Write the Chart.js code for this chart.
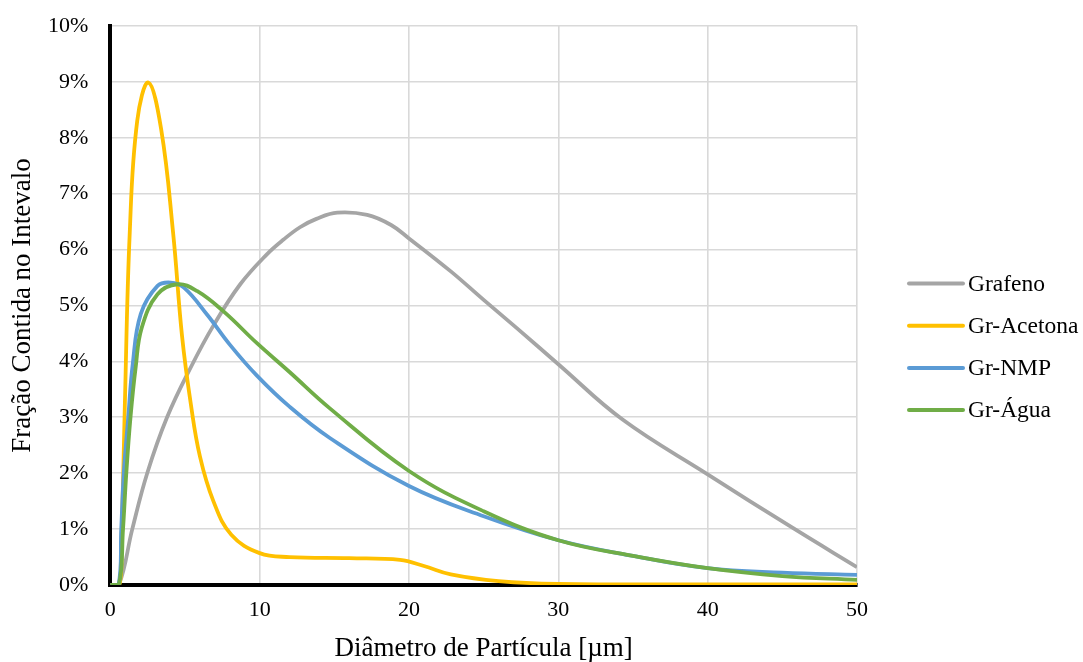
<!DOCTYPE html>
<html>
<head>
<meta charset="utf-8">
<script src="https://cdn.jsdelivr.net/npm/chart.js@4.4.1/dist/chart.umd.min.js"></script>
<style>
  html, body { margin: 0; padding: 0; background: #fff; }
  #wrap { width: 1083px; height: 662px; }
</style>
</head>
<body>
<div id="wrap"><canvas id="grafico"></canvas></div>
<script>
  // Diâmetro de partícula [µm] e fração (%) de cada amostra
  const xGrafeno = [0, 0.57, 1.47, 2.47, 3.8, 5.4, 6.9, 8.7, 10.5, 11.6, 12.7, 13.8, 15.2, 17.2, 18.8, 20, 22.8, 25, 27.2, 30, 34.3, 40, 45.7, 50];
  const yGrafeno = [0, 0, 1, 2, 3, 3.9, 4.64, 5.38, 5.92, 6.18, 6.4, 6.55, 6.66, 6.62, 6.44, 6.2, 5.61, 5.1, 4.6, 3.95, 2.96, 1.98, 1.02, 0.32];

  const xAcetona = [0, 0.6, 0.75, 0.97, 1.3, 1.8, 2.55, 3.4, 4.2, 4.8, 5.4, 6, 6.9, 8.1, 10, 12, 16, 19.4, 21, 22.8, 26, 30, 40, 50];
  const yAcetona = [0, 0, 0.8, 3.2, 6.3, 8.3, 8.99, 8.16, 6.31, 4.46, 3.22, 2.3, 1.5, 0.9, 0.57, 0.5, 0.48, 0.45, 0.34, 0.19, 0.07, 0.02, 0.01, 0.01];

  const xNMP = [0, 0.55, 0.73, 0.9, 1.2, 1.5, 2.04, 3.16, 4.04, 4.93, 6.5, 8, 9.8, 12, 14.7, 20, 25, 30, 35, 40, 45, 50];
  const yNMP = [0, 0, 1, 2, 3, 3.95, 4.85, 5.35, 5.41, 5.32, 4.83, 4.3, 3.75, 3.19, 2.63, 1.77, 1.23, 0.8, 0.52, 0.3, 0.22, 0.18];

  const xAgua = [0, 0.57, 0.85, 1.07, 1.35, 1.7, 2.1, 3.16, 4.5, 5.8, 7.6, 9.8, 12, 14.7, 20, 25, 30, 35, 40, 45, 50];
  const yAgua = [0, 0, 1, 2, 3, 3.9, 4.6, 5.2, 5.38, 5.26, 4.89, 4.33, 3.81, 3.16, 2.04, 1.32, 0.8, 0.52, 0.3, 0.16, 0.09];

  const nomes = ['Grafeno', 'Gr-Acetona', 'Gr-NMP', 'Gr-Água'];
  const cores = ['#A5A5A5', '#FFC000', '#5B9BD5', '#70AD47'];
  const xTicks = [0, 10, 20, 30, 40, 50];
  const yTicks = [0, 1, 2, 3, 4, 5, 6, 7, 8, 9, 10];

  const fonte = '"Liberation Serif", "Times New Roman", serif';
  const semCor = 'rgba(0,0,0,0)';

  function pontos(xs, ys) {
    return xs.map((x, i) => ({ x: x, y: ys[i] }));
  }

  const series = [
    pontos(xGrafeno, yGrafeno),
    pontos(xAcetona, yAcetona),
    pontos(xNMP, yNMP),
    pontos(xAgua, yAgua)
  ];

  // legenda desenhada à mão, à direita do gráfico
  const legenda = {
    id: 'legenda',
    afterDraw(chart) {
      const c = chart.ctx;
      const x0 = chart.chartArea.right + 52;
      const y0 = 283.5;
      const passo = 42.2;
      c.save();
      c.font = '23.5px ' + fonte;
      c.textBaseline = 'middle';
      c.fillStyle = '#000';
      chart.data.datasets.forEach((ds, i) => {
        const y = y0 + i * passo;
        c.strokeStyle = ds.borderColor;
        c.lineWidth = 4;
        c.lineCap = 'round';
        c.beginPath();
        c.moveTo(x0, y);
        c.lineTo(x0 + 54, y);
        c.stroke();
        c.fillText(ds.label, x0 + 59, y + 1);
      });
      c.restore();
    }
  };

  const ctx = document.getElementById('grafico').getContext('2d');
  new Chart(ctx, {
    type: 'line',
    data: {
      datasets: series.map((d, i) => ({
        label: nomes[i],
        data: d,
        borderColor: cores[i],
        backgroundColor: cores[i],
        borderWidth: 3.8,
        pointRadius: 0,
        fill: false,
        tension: 0.4,
        order: 4 - i // a última série fica por cima
      }))
    },
    plugins: [legenda],
    options: {
      responsive: true,
      maintainAspectRatio: false,
      animation: false,
      layout: { padding: { left: 9, right: 226, top: 26, bottom: 0 } },
      plugins: {
        tooltip: { enabled: false },
        legend: { display: false }
      },
      scales: {
        x: {
          type: 'linear',
          min: 0,
          max: 50,
          afterBuildTicks: (s) => { s.ticks = xTicks.map(v => ({ value: v })); },
          grid: { color: '#d9d9d9', lineWidth: 1.6, drawTicks: true, tickLength: 14, tickColor: semCor },
          border: { color: '#000', width: 4 },
          ticks: { color: '#000', padding: 0, font: { family: fonte, size: 22, lineHeight: 1 } },
          title: {
            display: true,
            text: 'Diâmetro de Partícula [µm]',
            color: '#000',
            font: { family: fonte, size: 27, lineHeight: 1 },
            padding: { top: 14, bottom: 0 }
          }
        },
        y: {
          min: 0,
          max: 10,
          afterBuildTicks: (s) => { s.ticks = yTicks.map(v => ({ value: v })); },
          grid: { color: '#d9d9d9', lineWidth: 1.6, drawTicks: true, tickLength: 22, tickColor: semCor },
          border: { color: '#000', width: 4 },
          ticks: {
            color: '#000',
            padding: 0,
            font: { family: fonte, size: 22 },
            callback: (v) => v + '%'
          },
          title: {
            display: true,
            text: 'Fração Contida no Intevalo',
            color: '#000',
            font: { family: fonte, size: 27, lineHeight: 1 },
            padding: { top: 0, bottom: 12 }
          }
        }
      }
    }
  });
</script>
</body>
</html>
